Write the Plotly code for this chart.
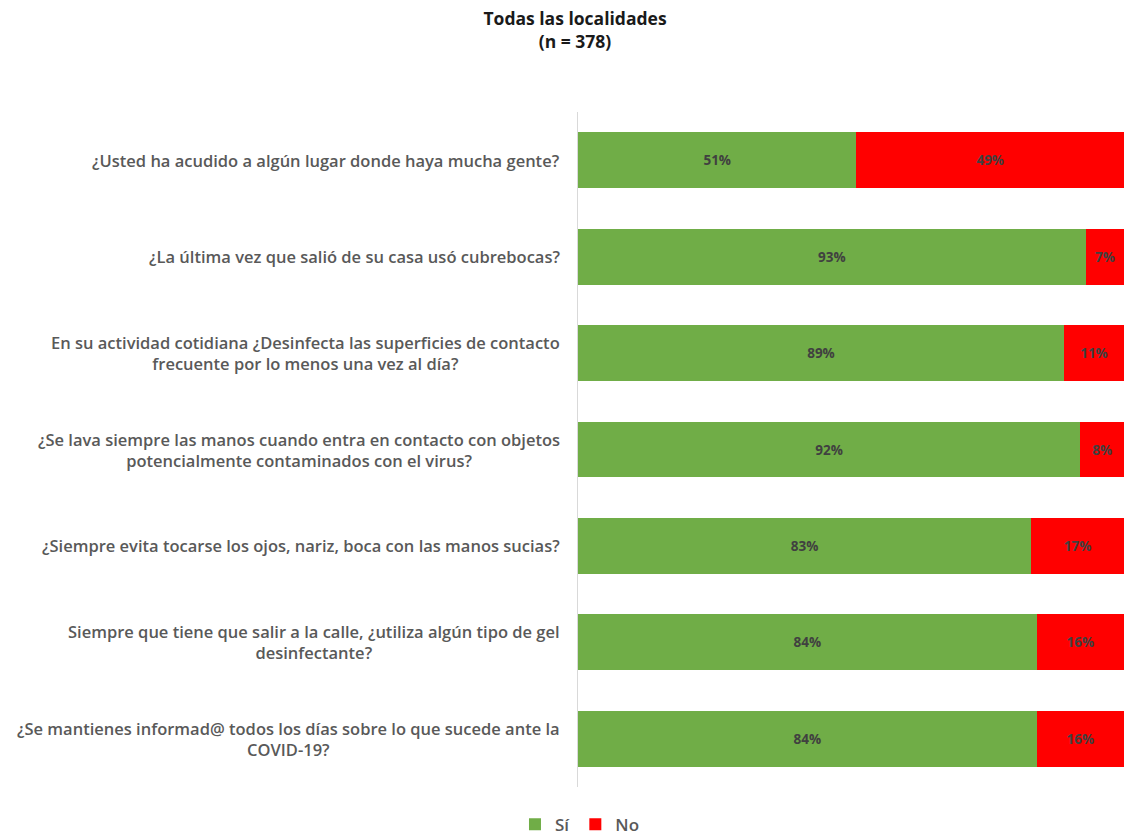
import plotly.graph_objects as go

preguntas = [
    "¿Usted ha acudido a algún lugar donde haya mucha gente?",
    "¿La última vez que salió de su casa usó cubrebocas?",
    "En su actividad cotidiana ¿Desinfecta las superficies de contacto<br>frecuente por lo menos una vez al día?",
    "¿Se lava siempre las manos cuando entra en contacto con objetos<br>potencialmente contaminados con el virus?",
    "¿Siempre evita tocarse los ojos, nariz, boca con las manos sucias?",
    "Siempre que tiene que salir a la calle, ¿utiliza algún tipo de gel<br>desinfectante?",
    "¿Se mantienes informad@ todos los días sobre lo que sucede ante la<br>COVID-19?",
]
si = [51, 93, 89, 92, 83, 84, 84]
no = [49, 7, 11, 8, 17, 16, 16]

cats = [f"q{i}" for i in range(len(preguntas))]

label_font = dict(family="Open Sans, sans-serif", size=13.5, color="#404040", weight="bold")

fig = go.Figure()
fig.add_trace(go.Bar(
    y=cats, x=si, orientation="h", name="Sí",
    marker=dict(color="#70AD47", line=dict(width=0)),
    text=[f"{v}%" for v in si], textposition="inside", insidetextanchor="middle",
    constraintext="none", textfont=label_font,
))
fig.add_trace(go.Bar(
    y=cats, x=no, orientation="h", name="No",
    marker=dict(color="#FF0000", line=dict(width=0)),
    text=[f"{v}%" for v in no], textposition="inside", insidetextanchor="middle",
    constraintext="none", textfont=label_font,
))

for c, q in zip(cats, preguntas):
    fig.add_annotation(
        x=0, xref="paper", xshift=-16, y=c, yref="y",
        text=q, showarrow=False, xanchor="right", align="center",
        font=dict(family="Open Sans, sans-serif", size=16.5, color="#595959", weight=600),
    )

fig.update_layout(
    width=1124, height=838,
    barmode="stack", bargap=0.42,
    plot_bgcolor="white", paper_bgcolor="white",
    margin=dict(l=578, r=0, t=112, b=51),
    title=dict(
        text="<b>Todas las localidades<br>(n = 378)</b>",
        x=0.5116, xanchor="center", y=0.97, yanchor="top",
        font=dict(family="Open Sans, sans-serif", size=17.5, color="#1a1a1a"),
    ),
    xaxis=dict(range=[0, 100], visible=False, fixedrange=True),
    yaxis=dict(
        categoryorder="array", categoryarray=cats, autorange="reversed",
        showticklabels=False, showline=True, linecolor="#d9d9d9", linewidth=1,
        ticks="", showgrid=False, zeroline=False, fixedrange=True,
    ),
    legend=dict(
        orientation="h", xref="container", x=0.516, xanchor="center",
        yref="container", y=0.016, yanchor="middle",
        font=dict(family="Open Sans, sans-serif", size=17, color="#595959", weight=600),
        traceorder="normal", itemwidth=30,
    ),
    showlegend=True,
)

fig.write_html(
    "out.html",
    config={"displayModeBar": False},
    post_script="document.body.style.margin='0';document.body.style.overflow='hidden';",
)
